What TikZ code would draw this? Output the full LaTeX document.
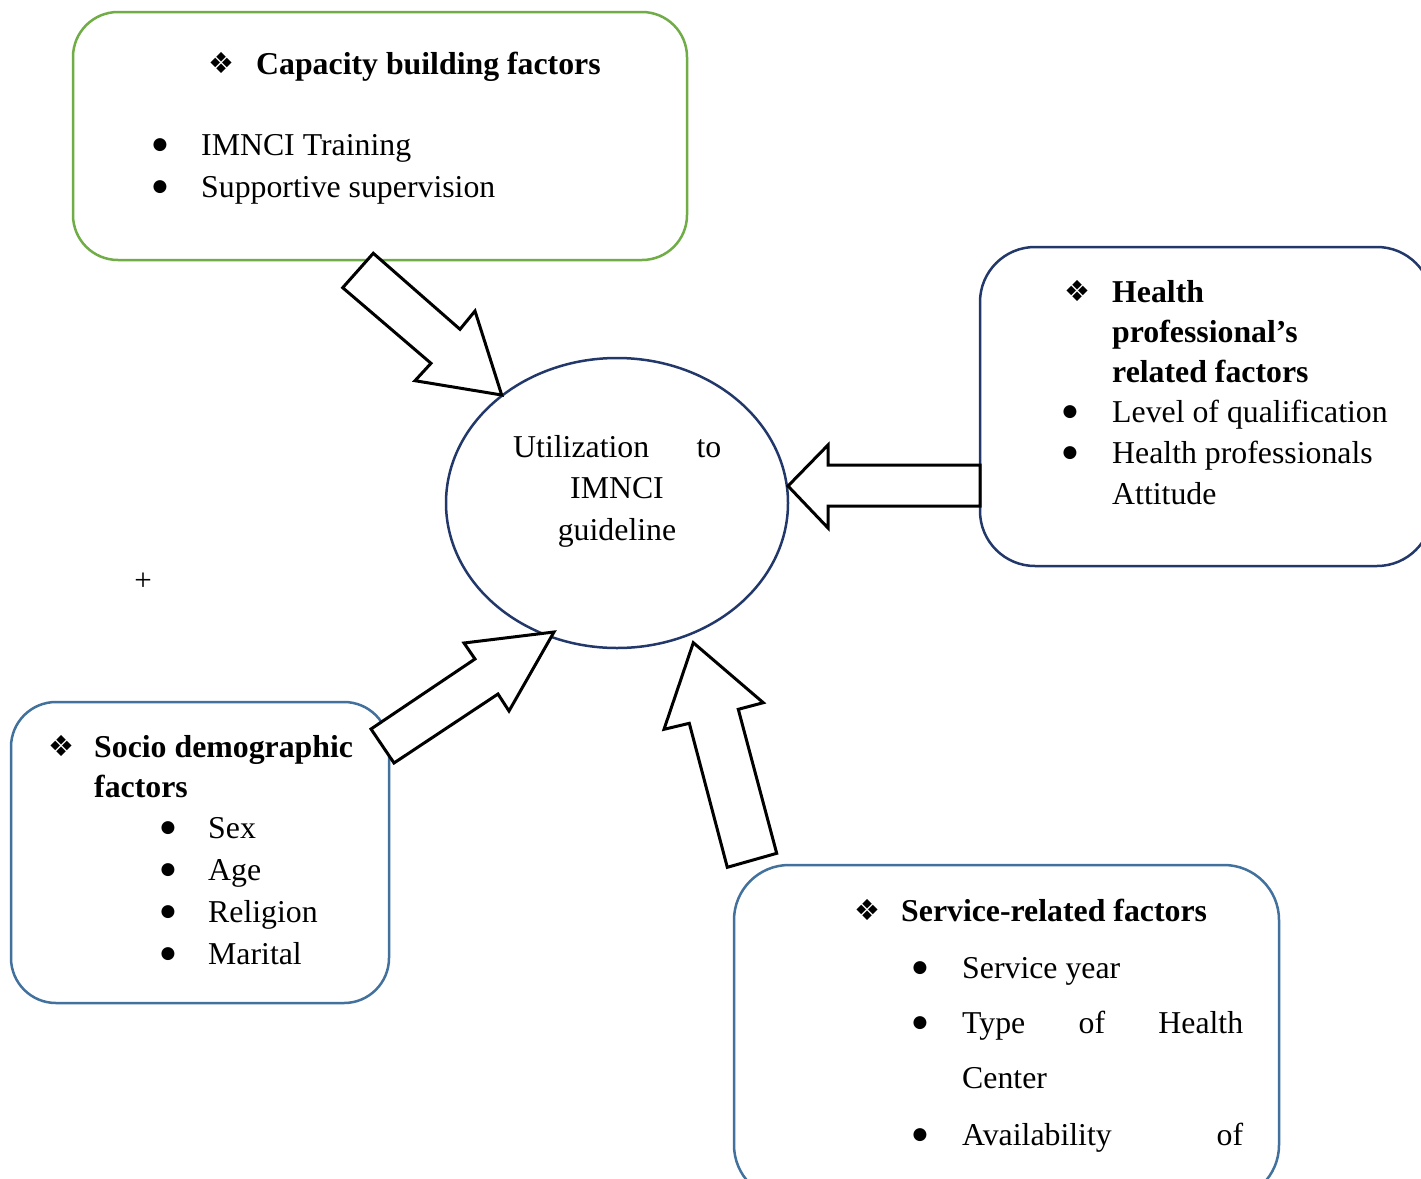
\documentclass[tikz,border=0pt]{standalone}
\usepackage{fontspec}
\setmainfont{Liberation Serif}
\newfontfamily\dingfont{DejaVu Sans}
\usetikzlibrary{shapes.geometric}
\definecolor{boxgreen}{HTML}{70AD47}
\definecolor{navyline}{HTML}{22386A}
\definecolor{steelline}{HTML}{41719C}
\begin{document}
\begin{tikzpicture}[x=1pt,y=-1pt,
  txt/.style={inner sep=0pt, font=\fontsize{31.8}{40}\selectfont, anchor=base west},
  btxt/.style={inner sep=0pt, font=\fontsize{31.8}{40}\selectfont\bfseries, anchor=base west},
  ctxt/.style={inner sep=0pt, font=\fontsize{31.8}{40}\selectfont, anchor=base},
  bul/.style={inner sep=0pt, font=\dingfont\fontsize{17}{17}\selectfont, anchor=center, yshift=10pt},
  dia/.style={inner sep=0pt, font=\dingfont\fontsize{29}{29}\selectfont, anchor=center},
  blockarrow/.style={draw=black, fill=white, line width=3pt, miter limit=20},
  factorbox/.style={draw, rectangle, line width=2.5pt, inner sep=0pt}]
\useasboundingbox (0,0) rectangle (1421,1178);
\clip (0,0) rectangle (1421,1178);
\fill[white] (0,0) rectangle (1421,1178);

% boxes
\node[factorbox, draw=boxgreen, rounded corners=45pt, minimum width=614pt, minimum height=248pt] (cap) at (380,136) {};
\node[factorbox, draw=navyline, rounded corners=55pt, minimum width=452pt, minimum height=319pt] (hp) at (1206,406.5) {};
\node[factorbox, draw=steelline, rounded corners=45pt, minimum width=378pt, minimum height=301pt] (socio) at (200,852.5) {};
\node[factorbox, draw=steelline, rounded corners=55pt, minimum width=545pt, minimum height=335pt] (serv) at (1006.5,1032.5) {};

% central ellipse
\node[ellipse, draw=navyline, line width=2.5pt, inner sep=0pt, minimum width=342pt, minimum height=290pt] (util) at (617,503) {};

% block arrows
\draw[blockarrow] (373.3,253.3) -- (342.7,287.7) -- (431,363.3) -- (415,380.7) -- (501.7,395) -- (475,311) -- (460,329.3) -- cycle;
\draw[blockarrow] (980,465) -- (828,465) -- (828,445) -- (788,486) -- (828,528) -- (828,506) -- (980,506) -- cycle;
\draw[blockarrow] (371,729) -- (394,763) -- (498,694) -- (509,711) -- (554,632) -- (464,643) -- (475,659) -- cycle;
\draw[blockarrow] (693.3,642.7) -- (763.3,702.7) -- (738.3,709.3) -- (776.7,853.3) -- (727.3,867.3) -- (689.3,723.3) -- (664,729.3) -- cycle;

% ellipse text
\node[txt] (u1) at (513,457) {\makebox[208pt][s]{Utilization to}};
\node[ctxt] (u2) at (617,498) {IMNCI};
\node[ctxt] (u3) at (617,540) {guideline};

% capacity building
\node[dia] (d1) at (221,63) {❖};
\node[btxt] (t1) at (256,74) {Capacity building factors};
\node[bul] (b11) at (160,155) {●};
\node[txt] (t11) at (201,155) {IMNCI Training};
\node[bul] (b12) at (160,197) {●};
\node[txt] (t12) at (201,197) {Supportive supervision};

% health professional
\node[dia] (d2) at (1077,291) {❖};
\node[btxt] (t2a) at (1112,302) {Health};
\node[btxt] (t2b) at (1112,342) {professional’s};
\node[btxt] (t2c) at (1112,382) {related factors};
\node[bul] (b21) at (1070,422) {●};
\node[txt] (t21) at (1112,422) {Level of qualification};
\node[bul] (b22) at (1070,463) {●};
\node[txt] (t22) at (1112,463) {Health professionals};
\node[txt] (t23) at (1112,504) {Attitude};

% socio demographic
\node[dia] (d3) at (61,746) {❖};
\node[btxt] (t3a) at (94,757) {Socio demographic};
\node[btxt] (t3b) at (94,797) {factors};
\node[bul] (b31) at (168,838) {●};
\node[txt] (t31) at (208,838) {Sex};
\node[bul] (b32) at (168,880) {●};
\node[txt] (t32) at (208,880) {Age};
\node[bul] (b33) at (168,922) {●};
\node[txt] (t33) at (208,922) {Religion};
\node[bul] (b34) at (168,964) {●};
\node[txt] (t34) at (208,964) {Marital};

% service related
\node[dia] (d4) at (867,910) {❖};
\node[btxt] (t4) at (901,921) {Service-related factors};
\node[bul] (b41) at (920,978) {●};
\node[txt] (t41) at (962,978) {Service year};
\node[bul] (b42) at (920,1033) {●};
\node[txt] (t42) at (962,1033) {\makebox[281pt][s]{Type of Health}};
\node[txt] (t43) at (962,1088) {Center};
\node[bul] (b44) at (920,1145) {●};
\node[txt] (t44) at (962,1145) {\makebox[281pt][s]{Availability of}};

% stray plus sign
\node[inner sep=0pt, font=\fontsize{31}{31}\selectfont] (plus) at (143,582) {+};
\end{tikzpicture}
\end{document}
